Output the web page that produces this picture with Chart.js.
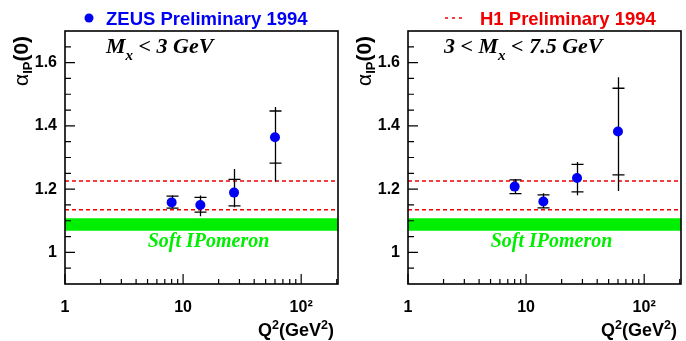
<!DOCTYPE html>
<html>
<head>
<meta charset="utf-8">
<script src="https://cdn.jsdelivr.net/npm/chart.js@4.4.1/dist/chart.umd.min.js"></script>
<style>
  html, body { margin: 0; padding: 0; background: #fff; }
  #wrap { position: relative; width: 686px; height: 341px; }
  canvas { position: absolute; top: 0; }
  #left { left: 0; }
  #right { left: 343px; }
</style>
</head>
<body>
<div id="wrap">
  <canvas id="left" width="343" height="341"></canvas>
  <canvas id="right" width="343" height="341"></canvas>
</div>
<script>
const SANS = '"Liberation Sans", Arial, sans-serif';
const SERIF = '"Liberation Serif", "Times New Roman", serif';

// Q^2 bins (GeV^2)
const q2 = [8, 14, 27, 60];

// ZEUS alpha_P(0), M_x < 3 GeV : value, stat band (caps), full error (line)
const alphaLow = [1.158, 1.150, 1.189, 1.364];
const statHiLow = [1.178, 1.174, 1.231, 1.447];
const statLoLow = [1.140, 1.127, 1.147, 1.282];
const totHiLow = [1.181, 1.180, 1.264, 1.460];
const totLoLow = [1.140, 1.114, 1.143, 1.224];

// ZEUS alpha_P(0), 3 < M_x < 7.5 GeV
const alphaMid = [1.208, 1.161, 1.235, 1.382];
const statHiMid = [1.229, 1.182, 1.278, 1.519];
const statLoMid = [1.186, 1.141, 1.191, 1.245];
const totHiMid = [1.232, 1.187, 1.286, 1.554];
const totLoMid = [1.184, 1.139, 1.181, 1.194];

// H1 1994 range and soft pomeron band
const h1Range = [1.135, 1.2257];
const softBand = [1.0685, 1.1077];

// axes
const X_MIN = 1, X_MAX = 205;
const Y_MIN = 0.9, Y_MAX = 1.7;
const xLabelTicks = [1, 10, 100];
const xTickLabels = ["1", "10", "10²"];
const xMinorTicks = [2, 3, 4, 5, 6, 7, 8, 9, 20, 30, 40, 50, 60, 70, 80, 90, 200];
const yLabelTicks = [1, 1.2, 1.4, 1.6];
const yTickLabels = ["1", "1.2", "1.4", "1.6"];
const yMinorTicks = [0.95, 1.05, 1.1, 1.15, 1.25, 1.3, 1.35, 1.45, 1.5, 1.55, 1.65];

const BLUE = "rgb(0,0,245)";
const RED = "rgb(240,0,0)";
const GREEN = "rgb(0,238,0)";

// draws a run of text pieces [text, font, dy] one after another
function drawParts(ctx, x, y, parts) {
  parts.forEach(([t, font, dy]) => {
    ctx.font = font;
    ctx.fillText(t, x, y + dy);
    x += ctx.measureText(t).width;
  });
  return x;
}

function hline(y) {
  return [{ x: X_MIN, y }, { x: X_MAX, y }];
}

function panelPlugin(p) {
  return {
    id: "panelDecor",
    // error bars go under the markers
    beforeDatasetDraw(chart, args) {
      if (args.index !== 0) return;
      const ctx = chart.ctx;
      const xs = chart.scales.x, ys = chart.scales.y;
      ctx.save();
      ctx.strokeStyle = "#000";
      ctx.lineWidth = 1.3;
      q2.forEach((q, i) => {
        const px = Math.round(xs.getPixelForValue(q)) + 0.5;
        ctx.beginPath();
        ctx.moveTo(px, ys.getPixelForValue(p.totLo[i]));
        ctx.lineTo(px, ys.getPixelForValue(p.totHi[i]));
        [p.statHi[i], p.statLo[i]].forEach((v) => {
          const py = ys.getPixelForValue(v);
          ctx.moveTo(px - 6, py);
          ctx.lineTo(px + 6, py);
        });
        ctx.stroke();
      });
      ctx.restore();
    },
    afterDraw(chart) {
      const ctx = chart.ctx;
      const { left, right, top, bottom } = chart.chartArea;
      const xs = chart.scales.x, ys = chart.scales.y;
      ctx.save();

      // frame + inward ticks
      ctx.strokeStyle = "#000";
      ctx.lineWidth = 1.6;
      ctx.strokeRect(left, top, right - left, bottom - top);
      ctx.lineWidth = 1.2;
      ctx.beginPath();
      xLabelTicks.forEach((v) => {
        const px = xs.getPixelForValue(v);
        ctx.moveTo(px, bottom); ctx.lineTo(px, bottom - 10);
      });
      xMinorTicks.forEach((v) => {
        const px = xs.getPixelForValue(v);
        ctx.moveTo(px, bottom); ctx.lineTo(px, bottom - 5);
      });
      yLabelTicks.forEach((v) => {
        const py = ys.getPixelForValue(v);
        ctx.moveTo(left, py); ctx.lineTo(left + 10, py);
      });
      yMinorTicks.forEach((v) => {
        const py = ys.getPixelForValue(v);
        ctx.moveTo(left, py); ctx.lineTo(left + 6, py);
      });
      ctx.stroke();

      ctx.fillStyle = "#000";
      ctx.textBaseline = "alphabetic";
      ctx.textAlign = "left";

      // y title, rotated
      ctx.save();
      ctx.translate(28, 86);
      ctx.rotate(-Math.PI / 2);
      drawParts(ctx, 0, 0, [
        ["α", "21px " + SANS, 0],
        ["IP", "bold 13px " + SANS, 4],
        ["(0)", "bold 21px " + SANS, 0],
      ]);
      ctx.restore();

      // x title, right aligned to the frame
      const xTitle = [
        ["Q", "bold 18px " + SANS, 0],
        ["2", "bold 12.5px " + SANS, -7],
        ["(GeV", "bold 18px " + SANS, 0],
        ["2", "bold 12.5px " + SANS, -7],
        [")", "bold 18px " + SANS, 0],
      ];
      let w = 0;
      xTitle.forEach(([t, f]) => { ctx.font = f; w += ctx.measureText(t).width; });
      drawParts(ctx, right - 4 - w, 336, xTitle);

      // panel label
      const big = "italic bold 22px " + SERIF;
      const sub = "italic bold 15px " + SERIF;
      drawParts(ctx, p.labelX, 53, p.label.map(([t, s]) => [t, s ? sub : big, s ? 7 : 0]));

      // soft pomeron caption
      ctx.fillStyle = GREEN;
      ctx.font = "italic bold 20px " + SERIF;
      ctx.textAlign = "center";
      ctx.fillText("Soft IPomeron", (left + right) / 2 + 7, 247);

      // legend entry above the frame
      ctx.textAlign = "left";
      ctx.font = "bold 18.5px " + SANS;
      if (p.legend === "zeus") {
        ctx.fillStyle = BLUE;
        ctx.beginPath();
        ctx.arc(89, 18, 4.5, 0, Math.PI * 2);
        ctx.fill();
        ctx.fillText("ZEUS Preliminary 1994", 106, 25);
      } else {
        ctx.strokeStyle = RED;
        ctx.lineWidth = 1.5;
        ctx.setLineDash([3, 4]);
        ctx.beginPath();
        ctx.moveTo(102, 18); ctx.lineTo(119, 18);
        ctx.stroke();
        ctx.setLineDash([]);
        ctx.fillStyle = RED;
        ctx.fillText("H1 Preliminary 1994", 137, 25);
      }
      ctx.restore();
    },
  };
}

function makePanel(id, p) {
  const points = q2.map((q, i) => ({ x: q, y: p.alpha[i] }));
  const dashed = { type: "line", borderColor: RED, borderWidth: 1.4, borderDash: [4, 3], pointRadius: 0, fill: false };

  return new Chart(document.getElementById(id), {
    type: "scatter",
    data: {
      datasets: [
        { data: points, backgroundColor: BLUE, borderWidth: 0, pointRadius: 5, pointHoverRadius: 5 },
        { ...dashed, data: hline(h1Range[1]) },
        { ...dashed, data: hline(h1Range[0]) },
        { type: "line", data: hline(softBand[1]), borderWidth: 0, pointRadius: 0, backgroundColor: GREEN, fill: "+1" },
        { type: "line", data: hline(softBand[0]), borderWidth: 0, pointRadius: 0, fill: false },
      ],
    },
    options: {
      responsive: false,
      animation: false,
      devicePixelRatio: 1,
      layout: { padding: { top: 31, right: 3, left: 0, bottom: 0 } },
      plugins: { legend: { display: false }, tooltip: { enabled: false } },
      scales: {
        x: {
          type: "logarithmic",
          min: X_MIN,
          max: X_MAX,
          grid: { display: false, drawTicks: false },
          border: { display: false },
          afterBuildTicks: (s) => { s.ticks = xLabelTicks.map((v) => ({ value: v })); },
          afterFit: (s) => {
            s.height = 57;
            s.paddingLeft = 0;
            s.paddingRight = 0;
          },
          ticks: {
            autoSkip: false,
            maxRotation: 0,
            padding: 14,
            color: "#000",
            font: { family: SANS, weight: "bold", size: 16 },
            callback: (v, i) => xTickLabels[i],
          },
        },
        y: {
          min: Y_MIN,
          max: Y_MAX,
          grid: { display: false, drawTicks: false },
          border: { display: false },
          afterBuildTicks: (s) => { s.ticks = yLabelTicks.map((v) => ({ value: v })); },
          afterFit: (s) => {
            s.width = 65;
            s.paddingTop = 0;
            s.paddingBottom = 0;
          },
          ticks: {
            padding: 8,
            color: "#000",
            font: { family: SANS, weight: "bold", size: 16 },
            callback: (v, i) => yTickLabels[i],
          },
        },
      },
    },
    plugins: [panelPlugin(p)],
  });
}

makePanel("left", {
  alpha: alphaLow, statHi: statHiLow, statLo: statLoLow, totHi: totHiLow, totLo: totLoLow,
  label: [["M"], ["x", true], [" < 3 GeV"]],
  labelX: 106,
  legend: "zeus",
});

makePanel("right", {
  alpha: alphaMid, statHi: statHiMid, statLo: statLoMid, totHi: totHiMid, totLo: totLoMid,
  label: [["3 < M"], ["x", true], [" < 7.5 GeV"]],
  labelX: 101,
  legend: "h1",
});
</script>
</body>
</html>
